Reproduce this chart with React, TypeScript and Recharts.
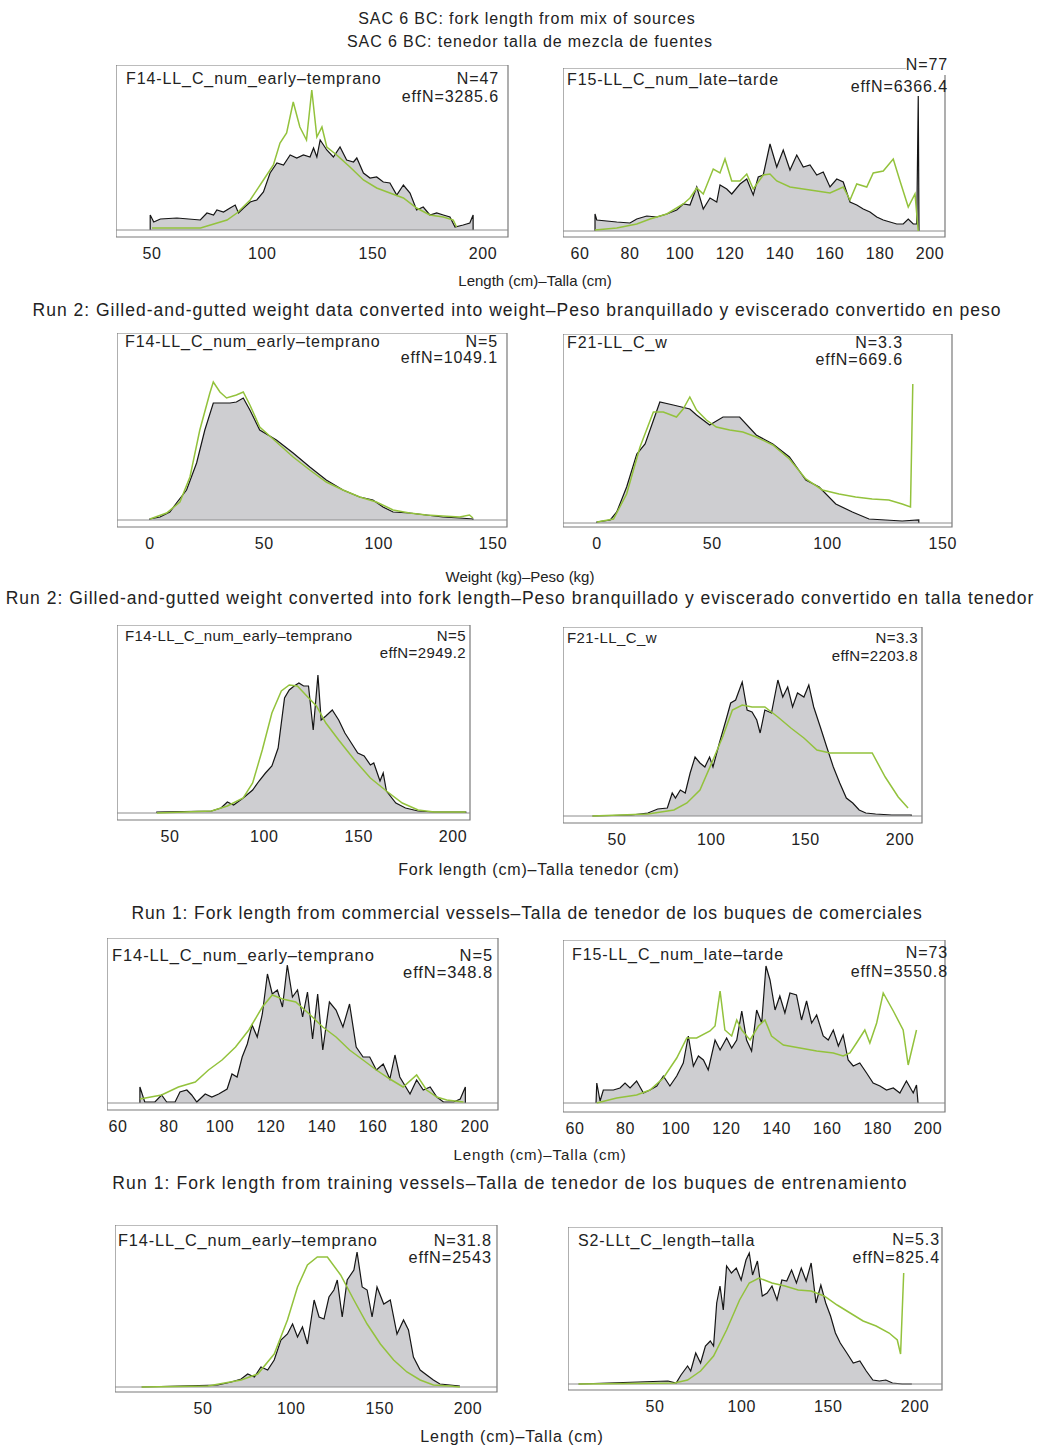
import {
  Area,
  ComposedChart,
  Line,
  ReferenceArea,
  ReferenceLine,
  XAxis,
  YAxis,
} from 'recharts'

type Pt = [number, number]

// [bin, relative frequency] — observed comps (grey polygon) and expected fits (green line)
const mixEarlyObs: Pt[] = [[49.2,0],[49.2,15],[50.8,8],[53.8,11],[61.3,12],[71.9,10],[74.9,17],[77.9,15],[79.4,20],[82.4,18],[85.4,22],[87.7,25],[89.2,17],[91.5,22],[94.5,28],[97.5,30],[100.5,38],[103.5,57],[106.6,67],[109.6,65],[112.6,75],[115.6,72],[118.6,75],[121.6,73],[123.2,82],[124.7,73],[126.2,90],[129.2,80],[132.2,73],[135.2,83],[138.2,70],[141.3,68],[142.8,72],[145.8,57],[148.8,52],[151.8,53],[154.8,48],[157.8,47],[160.9,35],[163.9,45],[166.9,37],[169.9,20],[172.9,23],[175.9,15],[179,17],[182,15],[185,13],[187.3,3],[191,5],[194,7],[195.5,15],[195.5,0]]
const mixEarlyExp: Pt[] = [[50,2],[72,2],[76.5,5],[84,10],[88.5,17],[94.5,30],[100.5,50],[105,65],[108,87],[111,97],[114,128],[117,103],[120,90],[122.4,140],[124.7,93],[127,103],[129.2,83],[133.7,75],[139.7,63],[145.8,50],[151.8,42],[157.8,37],[163.9,32],[169.9,22],[175.9,15],[182,13],[186.5,10],[188,3]]

const mixLateObs: Pt[] = [[66,0],[66,17],[66.7,11],[74.7,9],[80,8],[82.7,12],[86.7,15],[90.7,14],[94.7,17],[98.7,21],[101.3,27],[104,26],[106.7,44],[109.3,22],[112,33],[114.7,29],[116,46],[118.7,42],[120.7,37],[124,47],[126.7,52],[129.3,36],[131.3,54],[133.3,56],[136,87],[138.7,64],[141.3,81],[144,61],[146.7,76],[149.3,64],[152,66],[154.7,56],[157.3,59],[160,44],[162.7,52],[165.3,49],[168,29],[170.7,26],[173.3,22],[176,19],[178.7,14],[181.3,11],[184,9],[186.7,7],[189.3,7],[191.3,12],[193.3,7],[194.7,7],[195.3,135],[195.6,0]]
const mixLateExp: Pt[] = [[66,1],[74.7,3],[82.7,7],[88,12],[94.7,17],[101.3,27],[104,33],[106.7,43],[109.3,37],[113.3,62],[116,58],[118,72],[120.7,50],[124,50],[126.7,57],[129.3,42],[133.3,56],[136,57],[138.7,50],[144,44],[149.3,42],[154.7,40],[160,38],[165.3,44],[168,31],[170.7,47],[174.7,44],[177.3,58],[181.3,60],[185.3,72],[188,50],[191.3,24],[194,37],[195.3,0]]

const wtEarlyObs: Pt[] = [[0,0],[0,1],[4.4,3],[8.7,8],[11.6,17],[16,30],[20.4,57],[24,90],[27.7,117],[35,117],[37.8,118],[40.8,122],[43.7,110],[48,90],[55.3,80],[62.6,67],[69.9,53],[77.1,40],[84.4,30],[91.7,23],[97.5,20],[101.9,13],[106.3,8],[113.5,7],[120.8,5],[128,3],[135.4,2],[141.2,1],[141.2,0]]
const wtEarlyExp: Pt[] = [[0,1],[7.3,7],[13.1,18],[17.5,43],[21.8,90],[26.2,127],[27.7,138],[30.6,128],[33.5,122],[37.8,125],[40.8,128],[43.7,115],[48,93],[55.3,78],[62.6,63],[69.9,50],[77.1,38],[84.4,30],[91.7,23],[99,18],[106.3,10],[113.5,7],[120.8,5],[128,4],[135.4,3],[139.7,5],[141.2,2]]

const wtF21Obs: Pt[] = [[0,0],[0,1],[5.8,3],[8.6,11],[12.9,36],[17.3,69],[20.9,79],[27.3,121],[33.1,118],[40.3,114],[43.2,108],[48.9,98],[54.7,106],[61.9,106],[69.1,88],[76.3,79],[83.5,66],[90.6,43],[96.4,36],[103.6,19],[110.8,11],[118,4],[125.2,3],[132.4,2],[139.6,3],[139.6,0]]
const wtF21Exp: Pt[] = [[0,1],[7.2,4],[12.9,29],[18.7,76],[24.5,111],[28.8,111],[34.5,106],[37.4,114],[40.3,126],[43.2,113],[47.5,103],[51.8,96],[57.6,93],[63.3,91],[69.1,86],[76.3,78],[83.5,64],[90.6,44],[97.8,33],[105,29],[112.2,26],[119.4,24],[126.6,23],[132.4,19],[136,16],[137,139]]

const flEarlyObs: Pt[] = [[43,0],[43,1],[72,2],[77,5],[80.4,11],[83.7,8],[88.8,15],[93.8,23],[97.2,32],[100.6,40],[104,47],[107.3,65],[110.7,115],[113.2,123],[115.8,127],[118.3,130],[120.8,127],[123.4,127],[125.9,83],[128.4,138],[130.1,93],[132.6,97],[136,103],[139.4,93],[142.7,80],[146.1,70],[149.5,60],[152.9,57],[156.2,48],[158,50],[161.3,32],[163,40],[164.7,22],[169.7,10],[174.8,5],[181.5,2],[190,1],[206.8,1],[206.8,0]]
const flEarlyExp: Pt[] = [[43,0],[72,2],[80.4,7],[88.8,15],[93.8,30],[98.9,63],[104,100],[109,122],[113.2,128],[117.5,127],[122.5,117],[127.6,107],[132.6,90],[139.4,73],[147.8,53],[156.2,35],[164.7,22],[173.1,10],[181.5,3],[190,1],[206.8,1]]

const flF21Obs: Pt[] = [[37,0],[57.8,1],[66.4,3],[71.6,7],[76.7,8],[79.3,23],[81,18],[83.6,26],[86.2,23],[88.8,43],[91.4,59],[94,53],[96.6,49],[99.1,59],[100.9,49],[104.3,73],[107.8,96],[110.3,113],[112.9,116],[116.4,134],[119,106],[121.6,104],[124.1,96],[125.9,83],[128.4,106],[131.9,103],[135.3,136],[137.9,119],[140.5,129],[143.1,109],[145.7,123],[149.1,119],[151.7,131],[154.3,109],[157.8,89],[161.2,69],[164.7,49],[168.1,33],[171.6,18],[175,13],[178.4,6],[181.9,3],[187.1,2],[195.7,1],[206,1],[206,0]]
const flF21Exp: Pt[] = [[37,0],[66.4,2],[80.2,6],[87.1,13],[94,26],[100.9,56],[106,79],[111.2,106],[116.4,111],[121.6,109],[128.4,109],[135.3,99],[142.2,88],[149.1,78],[156,66],[162.9,63],[169.8,63],[178.4,63],[185.3,63],[192.2,39],[199.1,19],[204.3,8]]

const comEarlyObs: Pt[] = [[68.6,0],[68.6,16],[70.5,1],[74.5,1],[77.1,8],[79.1,1],[82.4,1],[84.3,11],[87,13],[88.9,8],[90.9,1],[94.2,9],[96.8,6],[99.5,9],[102.8,14],[104.7,29],[106.7,26],[108.7,46],[110.7,59],[112.6,78],[114.6,66],[116.6,89],[118.6,129],[120.5,109],[122.5,113],[124.5,96],[126.4,138],[128.4,106],[130.4,113],[132.4,86],[134.3,111],[136.3,64],[138.3,109],[140.3,53],[142.9,101],[145.5,93],[148.2,76],[150.8,99],[153.4,56],[156.1,46],[158.7,46],[161.3,33],[164,39],[166.6,24],[168.6,48],[170.5,26],[174.5,9],[177.1,23],[179.7,13],[182.4,16],[185,6],[187.6,1],[191.6,1],[194.2,4],[196.2,16],[196.2,0]]
const comEarlyExp: Pt[] = [[68.6,4],[77.1,8],[83.7,16],[90.3,21],[95.5,33],[100.8,43],[106.1,56],[111.3,73],[116.6,96],[120.5,108],[124.5,104],[129.7,101],[135,89],[140.3,76],[145.5,66],[150.8,53],[156.1,43],[161.3,33],[166.6,24],[171.8,16],[177.1,28],[181,13],[185,6],[188.9,3],[195.5,1]]

const comLateObs: Pt[] = [[68.3,0],[68.6,20],[69.9,2],[71.2,13],[75.2,13],[77.8,15],[79.8,20],[81.8,15],[84.4,22],[87.1,10],[89.7,13],[92.4,17],[95,27],[97.6,17],[100.3,27],[102.9,40],[104.9,67],[106.9,37],[108.9,47],[110.9,43],[112.8,33],[115.5,63],[117.5,53],[120.1,65],[122.1,55],[124.1,63],[126.1,92],[128,63],[130,52],[132,93],[134,80],[135.7,137],[137.3,123],[139.3,93],[141.2,107],[143.2,90],[145.2,110],[147.8,108],[149.8,83],[151.8,102],[153.8,80],[155.8,88],[158.4,67],[160.4,63],[162.4,73],[164.4,57],[166.3,68],[168.3,43],[170.3,37],[172.9,40],[175.6,30],[178.2,20],[180.9,17],[183.5,13],[186.2,15],[188.8,10],[191.4,22],[194.1,10],[195.4,18],[196,0]]
const comLateExp: Pt[] = [[68.6,0],[76.5,5],[84.4,8],[89.7,13],[95,25],[100.3,45],[104.3,65],[108.2,65],[113.5,72],[115.5,77],[117.5,112],[119.4,73],[122.1,67],[124.1,83],[126.1,73],[129.4,63],[132.7,77],[135.3,83],[137.9,67],[142.6,58],[149.2,55],[155.8,52],[162.4,50],[166.3,47],[169,50],[171.6,60],[174.9,73],[176.9,60],[179.6,80],[182.2,110],[186.2,92],[190.1,73],[192.1,38],[195.4,73]]

const trnEarlyObs: Pt[] = [[15.3,0],[58.4,2],[66,5],[71.6,8],[75.3,13],[79.1,10],[82.8,20],[86.6,17],[90.3,27],[94.1,47],[97.8,53],[100.7,63],[103.5,50],[106.3,60],[109.1,43],[112.9,87],[115.7,70],[118.5,68],[121.3,90],[124.1,97],[126,107],[128.8,70],[131.6,107],[135.4,117],[137.2,135],[140.1,100],[142.9,97],[145.7,70],[148.5,100],[152.3,83],[156,87],[159.8,53],[163.5,67],[166.3,57],[169.1,30],[172.9,17],[176.6,12],[180.4,7],[184.1,3],[189.8,2],[195.4,1]]
const trnEarlyExp: Pt[] = [[15.3,0],[52.8,1],[71.6,7],[81,13],[90.3,33],[97.8,67],[103.5,100],[109.1,122],[114.7,130],[120.4,130],[127.9,112],[135.4,87],[142.9,63],[150.4,43],[157.9,27],[165.4,15],[172.9,7],[180.4,2],[189.8,1],[195.4,0]]

const trnS2Obs: Pt[] = [[5.9,0],[57.5,3],[62.2,1],[65,9],[68.8,18],[70.6,13],[73.5,31],[76.3,21],[79.1,38],[81.9,43],[83.8,38],[85.6,81],[87.5,98],[89.4,74],[91.3,118],[94.1,111],[96.9,116],[99.7,104],[102.5,124],[104.4,131],[106.3,109],[109.1,123],[111.9,88],[114.7,91],[117.5,98],[120.4,84],[123.2,104],[126,103],[128.8,114],[131.6,101],[134.4,116],[137.2,103],[140.1,121],[142.9,81],[145.7,99],[148.5,81],[151.3,68],[154.1,51],[156.9,41],[160.7,31],[164.4,21],[168.2,23],[171.9,13],[175.7,4],[179.5,3],[183.2,4],[187,1],[192.6,0],[198.2,0]]
const trnS2Exp: Pt[] = [[5.9,0],[61.3,1],[68.8,4],[76.3,13],[83.8,28],[91.3,54],[98.8,84],[104.4,101],[110,106],[117.5,101],[125,98],[132.6,94],[140.1,93],[147.6,88],[155.1,79],[162.6,71],[170.1,63],[177.6,58],[185.1,51],[189.8,44],[191.7,30],[193.5,111]]

const lengthTicks = [50, 100, 150, 200]
const length20Ticks = [60, 80, 100, 120, 140, 160, 180, 200]
const weightTicks = [0, 50, 100, 150]

const FONT = '"Liberation Sans", Arial, sans-serif'
const INK = '#222'
const GREEN = '#93c23c'

type PanelDef = {
  left: number
  top: number
  width: number
  height: number
  xDomain: [number, number]
  yDomain: [number, number]
  ticks: number[]
  obs: Pt[]
  exp: Pt[]
  label: string
  n: string
  effN: string
  labelX: number
  labelY: number
  rightX: number
  nY: number
  effY: number
  textSize?: number
  textLs?: number
}

const rows = (pts: Pt[]) => pts.map(([x, y]) => ({ x, y }))

function Txt({ x, y, children, align = 'left', size = 16, ls = 0.9, bg }: any) {
  const style: React.CSSProperties = {
    position: 'absolute',
    top: y - 10,
    lineHeight: '20px',
    fontFamily: FONT,
    fontSize: size,
    letterSpacing: ls,
    color: INK,
    whiteSpace: 'nowrap',
    background: bg,
  }
  if (align === 'left') style.left = x
  else if (align === 'right') style.right = 1038 - x
  else {
    style.left = x - 600
    style.width = 1200
    style.textAlign = 'center'
  }
  return <div style={style}>{children}</div>
}

// extra room right of the frame so the last tick label is not clipped
const PAD = 24

function Panel(p: PanelDef) {
  const size = p.textSize ?? 16
  const ls = p.textLs ?? 0.9
  return (
    <>
      <div style={{ position: 'absolute', left: p.left, top: p.top }}>
        <ComposedChart
          width={p.width + PAD}
          height={p.height + 30}
          margin={{ top: 0, right: PAD, bottom: 0, left: 0 }}
        >
          <XAxis
            type="number"
            dataKey="x"
            domain={p.xDomain}
            allowDataOverflow
            ticks={p.ticks}
            interval={0}
            height={30}
            axisLine={false}
            tickLine={false}
            tickMargin={5}
            tick={{ fontSize: 16, fill: INK, fontFamily: FONT, letterSpacing: 0.6 }}
          />
          <YAxis hide type="number" domain={p.yDomain} allowDataOverflow width={0} />
          <ReferenceLine y={0} stroke="#8c8c8c" strokeWidth={1} />
          <Area
            data={rows(p.obs)}
            dataKey="y"
            type="linear"
            stroke="#151515"
            strokeWidth={1.2}
            fill="#c9c9cc"
            fillOpacity={0.9}
            baseValue={0}
            dot={false}
            activeDot={false}
            isAnimationActive={false}
          />
          <Line
            data={rows(p.exp)}
            dataKey="y"
            type="linear"
            stroke={GREEN}
            strokeWidth={1.5}
            dot={false}
            activeDot={false}
            isAnimationActive={false}
          />
          <ReferenceArea
            x1={p.xDomain[0]}
            x2={p.xDomain[1]}
            y1={p.yDomain[0]}
            y2={p.yDomain[1]}
            fill="none"
            stroke="#7a7a7a"
            strokeWidth={1.2}
            ifOverflow="visible"
          />
        </ComposedChart>
      </div>
      <Txt x={p.labelX} y={p.labelY} size={size} ls={ls}>{p.label}</Txt>
      <Txt x={p.rightX} y={p.nY} size={size} ls={ls} align="right" bg={p.nY < p.top + 5 ? '#fff' : undefined}>{p.n}</Txt>
      <Txt x={p.rightX} y={p.effY} size={size} ls={ls} align="right">{p.effN}</Txt>
    </>
  )
}

const panels: PanelDef[] = [
  { left: 116, top: 65, width: 392, height: 172, xDomain: [33.7, 211.3], yDomain: [-7, 165], ticks: lengthTicks,
    obs: mixEarlyObs, exp: mixEarlyExp, label: 'F14-LL_C_num_early–temprano', n: 'N=47', effN: 'effN=3285.6',
    labelX: 126, labelY: 79, rightX: 499, nY: 79, effY: 97 },
  { left: 563, top: 68, width: 382, height: 169, xDomain: [53.2, 206], yDomain: [-6, 163], ticks: length20Ticks,
    obs: mixLateObs, exp: mixLateExp, label: 'F15-LL_C_num_late–tarde', n: 'N=77', effN: 'effN=6366.4',
    labelX: 567, labelY: 80, rightX: 948, nY: 65, effY: 87 },
  { left: 117, top: 333, width: 390, height: 194, xDomain: [-14.4, 156.1], yDomain: [-7, 187], ticks: weightTicks,
    obs: wtEarlyObs, exp: wtEarlyExp, label: 'F14-LL_C_num_early–temprano', n: 'N=5', effN: 'effN=1049.1',
    labelX: 125, labelY: 342, rightX: 498, nY: 342, effY: 358 },
  { left: 563, top: 334, width: 389, height: 193, xDomain: [-14.7, 154], yDomain: [-4, 189], ticks: weightTicks,
    obs: wtF21Obs, exp: wtF21Exp, label: 'F21-LL_C_w', n: 'N=3.3', effN: 'effN=669.6',
    labelX: 567, labelY: 343, rightX: 903, nY: 343, effY: 360 },
  { left: 117, top: 625, width: 353, height: 195, xDomain: [21.9, 209], yDomain: [-7, 188], ticks: lengthTicks,
    obs: flEarlyObs, exp: flEarlyExp, label: 'F14-LL_C_num_early–temprano', n: 'N=5', effN: 'effN=2949.2',
    labelX: 125, labelY: 636, rightX: 466, nY: 636, effY: 653, textSize: 15, textLs: 0.4 },
  { left: 563, top: 627, width: 359, height: 196, xDomain: [21.4, 211.7], yDomain: [-7, 189], ticks: lengthTicks,
    obs: flF21Obs, exp: flF21Exp, label: 'F21-LL_C_w', n: 'N=3.3', effN: 'effN=2203.8',
    labelX: 567, labelY: 638, rightX: 918, nY: 638, effY: 656, textSize: 15, textLs: 0.4 },
  { left: 107, top: 938, width: 391, height: 172, xDomain: [55.7, 209], yDomain: [-7, 165], ticks: length20Ticks,
    obs: comEarlyObs, exp: comEarlyExp, label: 'F14-LL_C_num_early–temprano', n: 'N=5', effN: 'effN=348.8',
    labelX: 112, labelY: 955, rightX: 493, nY: 955, effY: 972, textSize: 16.5 },
  { left: 563, top: 940, width: 382, height: 172, xDomain: [55.2, 206.7], yDomain: [-9, 163], ticks: length20Ticks,
    obs: comLateObs, exp: comLateExp, label: 'F15-LL_C_num_late–tarde', n: 'N=73', effN: 'effN=3550.8',
    labelX: 572, labelY: 955, rightX: 948, nY: 953, effY: 972 },
  { left: 115, top: 1225, width: 382, height: 167, xDomain: [0.2, 216.4], yDomain: [-5, 162], ticks: lengthTicks,
    obs: trnEarlyObs, exp: trnEarlyExp, label: 'F14-LL_C_num_early–temprano', n: 'N=31.8', effN: 'effN=2543',
    labelX: 118, labelY: 1240, rightX: 492, nY: 1240, effY: 1257, textSize: 16.3 },
  { left: 568, top: 1227, width: 374, height: 163, xDomain: [-0.2, 215.6], yDomain: [-6, 157], ticks: lengthTicks,
    obs: trnS2Obs, exp: trnS2Exp, label: 'S2-LLt_C_length–talla', n: 'N=5.3', effN: 'effN=825.4',
    labelX: 578, labelY: 1241, rightX: 940, nY: 1240, effY: 1258 },
]

// [text, centre x, centre y, font size, letter spacing]
const headings: [string, number, number, number, number][] = [
  ['SAC 6 BC: fork length from mix of sources', 527, 19, 16, 0.9],
  ['SAC 6 BC: tenedor talla de mezcla de fuentes', 530, 42, 16, 0.9],
  ['Run 2: Gilled-and-gutted weight data converted into weight–Peso branquillado y eviscerado convertido en peso', 517, 310, 17.5, 1],
  ['Run 2: Gilled-and-gutted weight converted into fork length–Peso branquillado y eviscerado convertido en talla tenedor', 520, 598, 17.5, 1],
  ['Run 1: Fork length from commercial vessels–Talla de tenedor de los buques de comerciales', 527, 913, 17.5, 0.9],
  ['Run 1: Fork length from training vessels–Talla de tenedor de los buques de entrenamiento', 510, 1183, 17.5, 1.1],
]

const axisTitles: [string, number, number, number, number][] = [
  ['Length (cm)–Talla (cm)', 535, 281, 15, 0],
  ['Weight (kg)–Peso (kg)', 520, 577, 15, 0],
  ['Fork length (cm)–Talla tenedor (cm)', 539, 870, 16, 0.8],
  ['Length (cm)–Talla (cm)', 540, 1155, 15, 0.9],
  ['Length (cm)–Talla (cm)', 512, 1437, 16, 0.9],
]

export default function App() {
  return (
    <div style={{ position: 'absolute', left: 0, top: 0, width: 1038, height: 1448, background: '#fff' }}>
      {headings.map(([t, x, y, s, ls]) => (
        <Txt key={t + y} x={x} y={y} size={s} ls={ls} align="center">{t}</Txt>
      ))}
      {panels.map((p, i) => (
        <Panel key={i} {...p} />
      ))}
      {axisTitles.map(([t, x, y, s, ls]) => (
        <Txt key={t + y} x={x} y={y} size={s} ls={ls} align="center">{t}</Txt>
      ))}
    </div>
  )
}
